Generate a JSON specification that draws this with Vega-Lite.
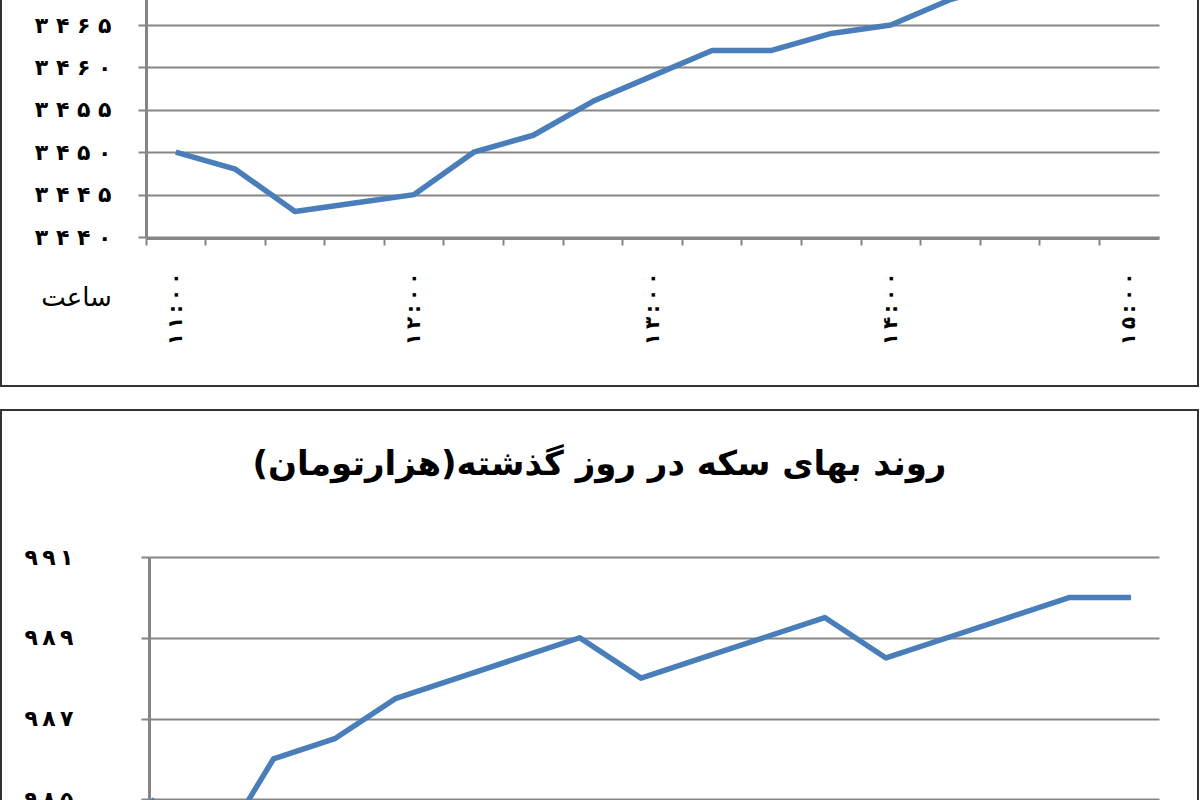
{
  "$schema": "https://vega.github.io/schema/vega-lite/v6.json",
  "background": "white",
  "padding": {"left": 0, "top": -31, "right": 0, "bottom": 0},
  "spacing": 22,
  "datasets": {
    "top": [
      {"t": "۱۱:۰۰", "price": 3450},
      {"t": "۱۱:۱۵", "price": 3448},
      {"t": "۱۱:۳۰", "price": 3443},
      {"t": "۱۱:۴۵", "price": 3444},
      {"t": "۱۲:۰۰", "price": 3445},
      {"t": "۱۲:۱۵", "price": 3450},
      {"t": "۱۲:۳۰", "price": 3452},
      {"t": "۱۲:۴۵", "price": 3456},
      {"t": "۱۳:۰۰", "price": 3459},
      {"t": "۱۳:۱۵", "price": 3462},
      {"t": "۱۳:۳۰", "price": 3462},
      {"t": "۱۳:۴۵", "price": 3464},
      {"t": "۱۴:۰۰", "price": 3465},
      {"t": "۱۴:۱۵", "price": 3468},
      {"t": "۱۴:۳۰", "price": 3470},
      {"t": "۱۴:۴۵", "price": 3471},
      {"t": "۱۵:۰۰", "price": 3472}
    ],
    "coin": [
      {"t": "۱۱:۰۰", "price": 985},
      {"t": "۱۱:۱۵", "price": 983.5},
      {"t": "۱۱:۳۰", "price": 986},
      {"t": "۱۱:۴۵", "price": 986.5},
      {"t": "۱۲:۰۰", "price": 987.5},
      {"t": "۱۲:۱۵", "price": 988},
      {"t": "۱۲:۳۰", "price": 988.5},
      {"t": "۱۲:۴۵", "price": 989},
      {"t": "۱۳:۰۰", "price": 988},
      {"t": "۱۳:۱۵", "price": 988.5},
      {"t": "۱۳:۳۰", "price": 989},
      {"t": "۱۳:۴۵", "price": 989.5},
      {"t": "۱۴:۰۰", "price": 988.5},
      {"t": "۱۴:۱۵", "price": 989},
      {"t": "۱۴:۳۰", "price": 989.5},
      {"t": "۱۴:۴۵", "price": 990},
      {"t": "۱۵:۰۰", "price": 990}
    ]
  },
  "vconcat": [
    {
      "width": 1197,
      "height": 416,
      "data": {"name": "top"},
      "mark": {"type": "line", "color": "#4a7ebb", "strokeWidth": 5.5, "strokeJoin": "round", "clip": true},
      "encoding": {
        "x": {
          "field": "t",
          "type": "ordinal",
          "sort": null,
          "bandPosition": 0.5,
          "scale": {"type": "band", "range": [145, 1158], "paddingInner": 0, "paddingOuter": 0},
          "axis": {
            "orient": "bottom",
            "offset": -148,
            "bandPosition": 0,
            "ticks": true,
            "tickSize": 7,
            "tickWidth": 2,
            "domainWidth": 3,
            "grid": false,
            "labelExpr": "indexof(datum.value, ':۰۰') >= 0 ? join(split(datum.value, ''), '\u2009') : ''",
            "labelAngle": 270,
            "labelAlign": "right",
            "labelBaseline": "middle",
            "labelPadding": 27,
            "labelFontSize": 20,
            "labelFontWeight": "bold",
            "labelOverlap": false,
            "title": "ساعت",
            "titleX": 75,
            "titleY": 59,
            "titleAngle": 0,
            "titleAlign": "center",
            "titleBaseline": "middle",
            "titleFontSize": 26,
            "titleFontWeight": "normal"
          }
        },
        "y": {
          "field": "price",
          "type": "quantitative",
          "scale": {"domain": [3440, 3470], "range": [267, 12.6], "zero": false, "nice": false},
          "axis": {
            "values": [3440, 3445, 3450, 3455, 3460, 3465],
            "offset": -145,
            "grid": true,
            "gridWidth": 2,
            "domainWidth": 3,
            "tickSize": 8,
            "tickWidth": 2,
            "labelPadding": 27,
            "labelFontSize": 22,
            "labelFontWeight": "bold",
            "labelExpr": "replace(replace(replace(replace(replace(replace(replace(replace(replace(replace(join(split(toString(datum.value), ''), ' '), regexp('0','g'), '۰'), regexp('1','g'), '۱'), regexp('2','g'), '۲'), regexp('3','g'), '۳'), regexp('4','g'), '۴'), regexp('5','g'), '۵'), regexp('6','g'), '۶'), regexp('7','g'), '۷'), regexp('8','g'), '۸'), regexp('9','g'), '۹')",
            "title": null
          }
        }
      }
    },
    {
      "width": 1197,
      "height": 480,
      "data": {"name": "coin"},
      "title": {
        "text": "\u200fروند بهای سکه در روز گذشته(هزارتومان)\u200f",
        "anchor": "middle",
        "frame": "group",
        "orient": "top",
        "offset": 0,
        "baseline": "middle",
        "dy": 89,
        "fontSize": 34,
        "fontWeight": "bold",
        "font": "DejaVu Sans",
        "color": "black"
      },
      "mark": {"type": "line", "color": "#4a7ebb", "strokeWidth": 5.5, "strokeJoin": "round", "clip": true},
      "encoding": {
        "x": {
          "field": "t",
          "type": "ordinal",
          "sort": null,
          "scale": {"type": "point", "range": [148, 1158], "padding": 0.245, "align": 0.067},
          "axis": null
        },
        "y": {
          "field": "price",
          "type": "quantitative",
          "scale": {"domain": [983, 991], "range": [470, 147], "zero": false, "nice": false},
          "axis": {
            "values": [985, 987, 989, 991],
            "offset": -148,
            "grid": true,
            "gridWidth": 2,
            "domainWidth": 3,
            "tickSize": 8,
            "tickWidth": 2,
            "labelPadding": 68,
            "labelFontSize": 22,
            "labelFontWeight": "bold",
            "labelExpr": "replace(replace(replace(replace(replace(replace(replace(replace(replace(replace(join(split(toString(datum.value), ''), '\u2009'), regexp('0','g'), '۰'), regexp('1','g'), '۱'), regexp('2','g'), '۲'), regexp('3','g'), '۳'), regexp('4','g'), '۴'), regexp('5','g'), '۵'), regexp('6','g'), '۶'), regexp('7','g'), '۷'), regexp('8','g'), '۸'), regexp('9','g'), '۹')",
            "title": null
          }
        }
      }
    }
  ],
  "config": {
    "view": {"stroke": "#333333", "strokeWidth": 2},
    "axis": {
      "domainColor": "#858585",
      "tickColor": "#858585",
      "gridColor": "#868686",
      "labelColor": "black",
      "titleColor": "black",
      "labelFont": "DejaVu Sans",
      "titleFont": "DejaVu Sans"
    }
  }
}
